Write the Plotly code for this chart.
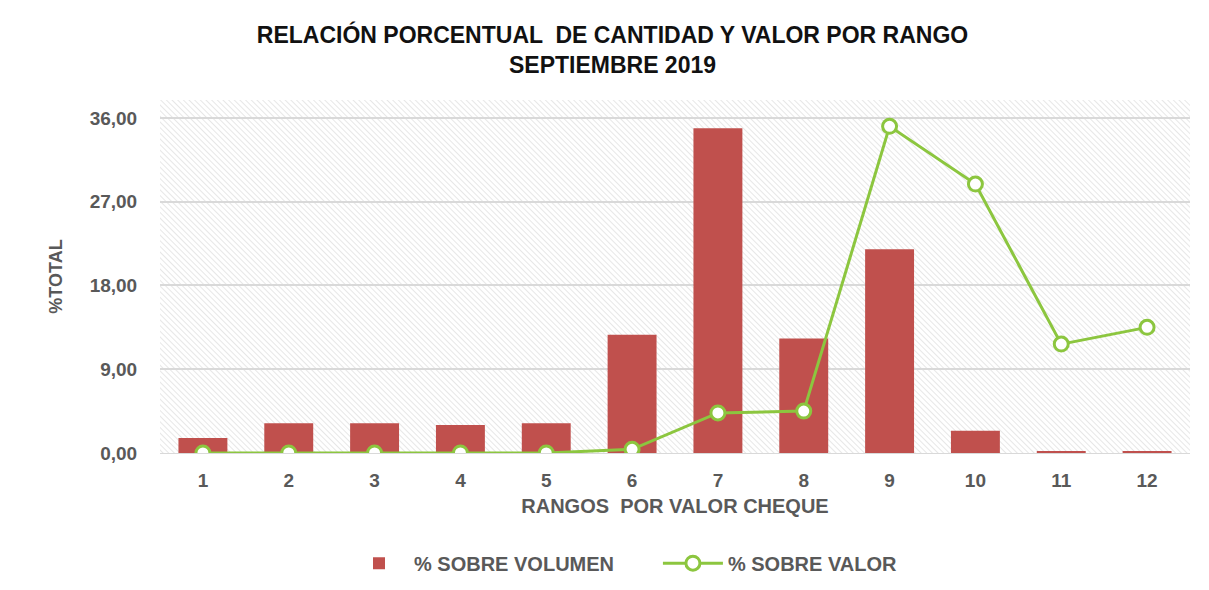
import base64
import plotly.graph_objects as go

# datos
rangos = ["1", "2", "3", "4", "5", "6", "7", "8", "9", "10", "11", "12"]
pct_volumen = [1.6, 3.2, 3.2, 3.0, 3.2, 12.7, 34.9, 12.3, 21.9, 2.4, 0.2, 0.2]
pct_valor = [0.0, 0.0, 0.0, 0.0, 0.0, 0.4, 4.3, 4.5, 35.1, 28.9, 11.7, 13.5]
y_ticks = [0, 9, 18, 27, 36]

ROJO = "#C0504D"
VERDE = "#8CC63F"
GRIS = "#595959"
FUENTE = "Liberation Sans, Arial, sans-serif"

# fondo rayado del área de trazado
svg = (
    "<svg xmlns='http://www.w3.org/2000/svg' width='1030' height='353'>"
    "<defs><pattern id='h' width='4' height='4' patternUnits='userSpaceOnUse' "
    "patternTransform='rotate(-45)'>"
    "<line x1='0' y1='0' x2='0' y2='4' stroke='#d2d2d2' stroke-width='1.1'/>"
    "</pattern></defs>"
    "<rect width='100%' height='100%' fill='white'/>"
    "<rect width='100%' height='100%' fill='url(#h)'/></svg>"
)
fondo = "data:image/svg+xml;base64," + base64.b64encode(svg.encode()).decode()

fig = go.Figure()
fig.add_trace(go.Bar(
    x=rangos, y=pct_volumen, name="% SOBRE VOLUMEN" + "\u00a0" * 7,
    marker=dict(color=ROJO, line=dict(width=0)), width=0.57,
))
fig.add_trace(go.Scatter(
    x=rangos, y=pct_valor, name="% SOBRE VALOR", mode="lines+markers",
    line=dict(color=VERDE, width=3),
    marker=dict(symbol="circle", size=14, color="white",
                line=dict(color=VERDE, width=3)),
))

fig.update_layout(
    width=1209, height=590,
    margin=dict(l=152, r=27, t=92, b=145),
    paper_bgcolor="white",
    plot_bgcolor="rgba(0,0,0,0)",
    separators=",.",
    font=dict(family=FUENTE, color=GRIS),
    title=dict(
        text="<b>RELACIÓN PORCENTUAL  DE CANTIDAD Y VALOR POR RANGO<br>SEPTIEMBRE 2019</b>",
        x=0.5, xanchor="center", y=0.94, yanchor="middle",
        font=dict(family=FUENTE, size=23, color="#111111"),
    ),
    images=[dict(source=fondo, xref="paper", yref="paper", x=0, y=1,
                 sizex=1, sizey=1, xanchor="left", yanchor="top",
                 sizing="stretch", layer="below")],
    xaxis=dict(
        type="category", range=[-0.5, 11.5],
        showgrid=False, showline=True, linecolor="#d9d9d9", linewidth=1,
        ticks="outside", ticklen=10, tickcolor="rgba(0,0,0,0)",
        tickfont=dict(size=19, color=GRIS, family=FUENTE, weight="bold"),
        title=dict(text="<b>RANGOS  POR VALOR CHEQUE</b>", standoff=9,
                   font=dict(size=20, color=GRIS, family=FUENTE)),
    ),
    yaxis=dict(
        range=[0, 37.93], tickvals=y_ticks, tickformat=".2f",
        showgrid=True, gridcolor="#d9d9d9", gridwidth=1.5,
        zeroline=False, showline=False,
        ticks="outside", ticklen=18, tickcolor="rgba(0,0,0,0)",
        tickfont=dict(size=19, color=GRIS, family=FUENTE, weight="bold"),
        title=dict(text="<b>%TOTAL</b>", standoff=22,
                   font=dict(size=18, color=GRIS, family=FUENTE)),
    ),
    legend=dict(
        orientation="h", x=0.45, xanchor="center", y=-0.312, yanchor="middle",
        font=dict(size=20, color=GRIS, family=FUENTE, weight="bold"),
        itemwidth=60, traceorder="normal",
    ),
)

fig.write_html("out.html")
